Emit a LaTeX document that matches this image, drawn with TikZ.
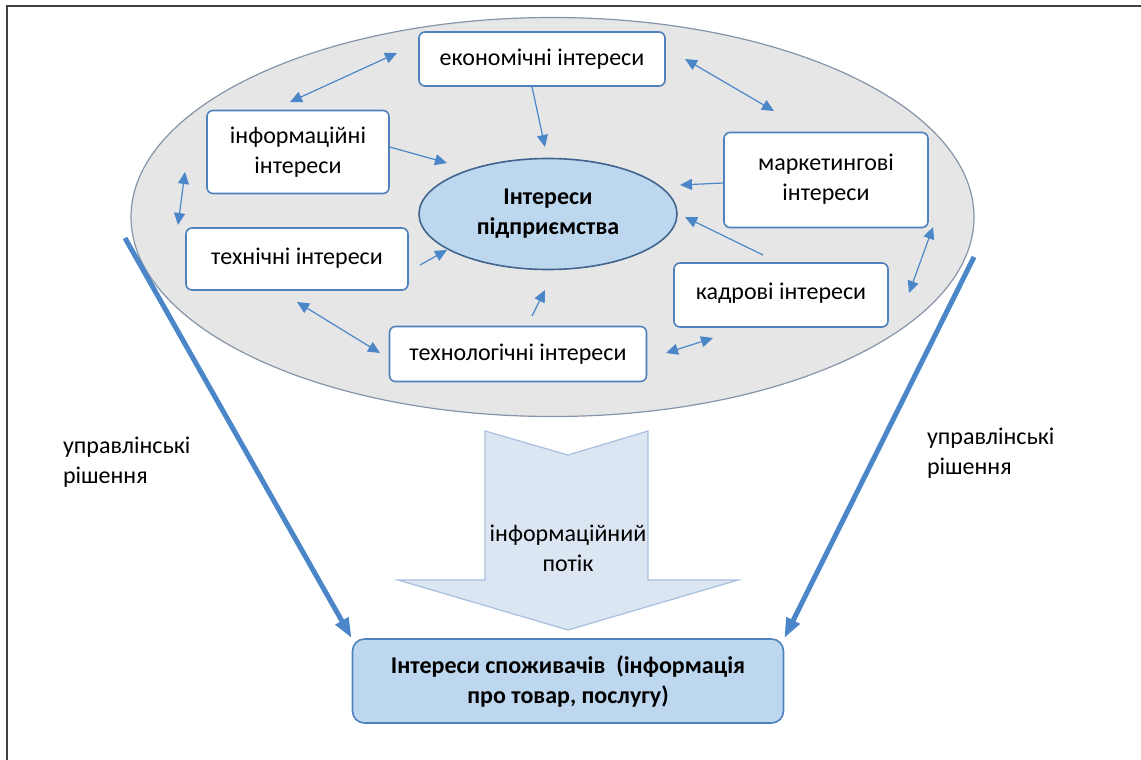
\documentclass[tikz,border=0pt]{standalone}
\usepackage{fontspec}
\setmainfont{Carlito}
\usetikzlibrary{arrows.meta, shapes.geometric, positioning}
\definecolor{intblue}{HTML}{4F81BD}
\definecolor{intarrow}{HTML}{4A86C8}
\definecolor{intgray}{HTML}{E6E6E6}
\definecolor{intgraybd}{HTML}{8594A8}
\definecolor{intcore}{HTML}{BDD7EE}
\definecolor{intcorebd}{HTML}{41648F}
\definecolor{intflow}{HTML}{DCE6F2}
\definecolor{intflowbd}{HTML}{A7BFDE}
\definecolor{intframe}{HTML}{404040}

\begin{document}
\begin{tikzpicture}[x=0.5pt, y=-0.5pt,
    txt/.style={font=\fontsize{12}{15}\selectfont, align=center},
    ibox/.style={txt, draw=intblue, line width=0.8pt, fill=white, rounded corners=3pt, inner sep=0pt},
    link/.style={{Triangle[length=6pt,width=5.5pt]}-{Triangle[length=6pt,width=5.5pt]}, intarrow, line width=0.6pt},
    feed/.style={-{Triangle[length=6pt,width=5.5pt]}, intarrow, line width=0.6pt},
    decide/.style={-{Triangle[length=10pt,width=7pt]}, intarrow, line width=2.5pt}]
    \useasboundingbox (0,0) rectangle (1141,760);

    % Frame
    \draw[intframe, line width=1pt] (7,760) -- (7,6) -- (1141,6);

    % Enterprise ellipse
    \node[ellipse, draw=intgraybd, line width=0.6pt, fill=intgray, minimum width=421.5pt, minimum height=199.5pt, inner sep=0pt] (outer) at (552.5,217) {};

    % Central ellipse
    \node[ellipse, txt, draw=intcorebd, line width=0.8pt, fill=intcore, minimum width=129pt, minimum height=55.5pt, inner sep=0pt, font=\fontsize{12}{15}\selectfont\bfseries] (core) at (548,214) {Інтереси\\підприємства};

    % Interest boxes
    \node[ibox, minimum width=123pt, minimum height=27pt] (eco) at (542,59) {економічні інтереси};
    \node[ibox, minimum width=91pt, minimum height=41.5pt] (info) at (298,152) {інформаційні\\інтереси};
    \node[ibox, minimum width=111pt, minimum height=31pt] (tech) at (297,259) {\raisebox{3pt}{технічні інтереси}};
    \node[ibox, minimum width=128.5pt, minimum height=27.5pt] (techno) at (518,354) {технологічні інтереси};
    \node[ibox, minimum width=102pt, minimum height=47.5pt] (market) at (826,180) {\raisebox{2.5pt}{маркетингові}\\\raisebox{2.5pt}{інтереси}};
    \node[ibox, minimum width=107pt, minimum height=32pt] (hr) at (781,295) {\raisebox{4pt}{кадрові інтереси}};

    % Links between boxes
    \coordinate (l1a) at (290,102); \coordinate (l1b) at (397,53);
    \coordinate (l2a) at (685,59);  \coordinate (l2b) at (774,111);
    \coordinate (l3a) at (933,227); \coordinate (l3b) at (909,293);
    \coordinate (l4a) at (713,338); \coordinate (l4b) at (666,353);
    \coordinate (l5a) at (297,302); \coordinate (l5b) at (380,353);
    \coordinate (l6a) at (185,172); \coordinate (l6b) at (178,225);
    \foreach \a/\b in {l1a/l1b, l2a/l2b, l3a/l3b, l4a/l4b, l5a/l5b, l6a/l6b}
        \draw[link] (\a) -- (\b);

    % Feeds into the centre
    \coordinate (f1) at (545,147);
    \coordinate (f2) at (447,163);
    \coordinate (f3a) at (420,265); \coordinate (f3) at (447,250);
    \coordinate (f4a) at (532,316); \coordinate (f4) at (545,290);
    \coordinate (f5) at (680,185);
    \coordinate (f6a) at (763,255); \coordinate (f6) at (685,217);
    \draw[feed] (eco.south) ++(-10,0) -- (f1);
    \draw[feed] (info.east) ++(0,-5) -- (f2);
    \draw[feed] (f3a) -- (f3);
    \draw[feed] (f4a) -- (f4);
    \draw[feed] (market.west) ++(0,3) -- (f5);
    \draw[feed] (f6a) -- (f6);

    % Information flow
    \draw[intflowbd, fill=intflow, line width=0.6pt] (485,431) -- (568,455) -- (648,431) -- (648,580) -- (738,580) -- (568,630) -- (398,580) -- (485,580) -- cycle;
    \node[txt] (flow) at (568,548) {інформаційний\\потік};

    % Consumer interests
    \node[txt, draw=intblue, line width=0.8pt, fill=intcore, rounded corners=6pt, minimum width=215.5pt, minimum height=42pt, inner sep=0pt, font=\fontsize{12}{15}\selectfont\bfseries] (consumer) at (568,681) {Інтереси споживачів~~(інформація\\про товар, послугу)};

    % Management decisions
    \coordinate (dl) at (125,238);
    \coordinate (dr) at (974,257);
    \draw[decide] (dl) -- (consumer.north west);
    \draw[decide] (dr) -- (consumer.north east);
    \node[txt, align=left, anchor=west] (lblL) at (56,462) {управлінські\\рішення};
    \node[txt, align=left, anchor=west] (lblR) at (920,453) {управлінські\\рішення};
\end{tikzpicture}
\end{document}
